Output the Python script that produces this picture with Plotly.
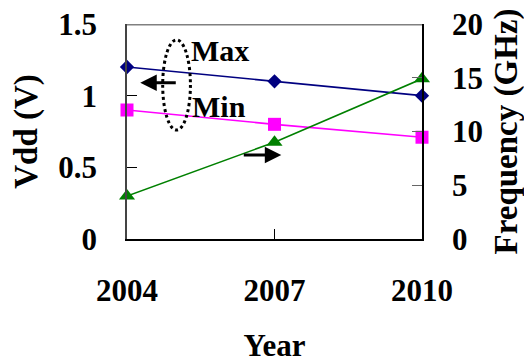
import plotly.graph_objects as go

years = [2004, 2007, 2010]
vdd_max = [1.2, 1.1, 1.0]
vdd_min = [0.9, 0.8, 0.71]
freq_ghz = [4.0, 9.0, 14.9]

x_ticks = [2004, 2007, 2010]
y_ticks = [0, 0.5, 1, 1.5]
y2_ticks = [0, 5, 10, 15, 20]

FONT = "Liberation Serif"
tick_font = dict(family=FONT, size=31, color="black")
xtitle_font = dict(family=FONT, size=31, color="black")
ytitle_font = dict(family=FONT, size=33, color="black")

fig = go.Figure()
fig.add_trace(go.Scatter(x=years, y=vdd_max, mode="lines+markers", name="Max",
                         line=dict(color="#000080", width=1.6),
                         marker=dict(symbol="diamond", size=11, color="#000080"),
                         cliponaxis=False))
fig.add_trace(go.Scatter(x=years, y=vdd_min, mode="lines+markers", name="Min",
                         line=dict(color="#FF00FF", width=1.6),
                         marker=dict(symbol="square", size=13, color="#FF00FF"),
                         cliponaxis=False))
fig.add_trace(go.Scatter(x=years, y=freq_ghz, mode="lines+markers", name="Frequency",
                         line=dict(color="#008000", width=1.6),
                         marker=dict(symbol="triangle-up", size=14, color="#008000"),
                         yaxis="y2", cliponaxis=False))

fig.update_layout(
    width=524, height=355,
    margin=dict(l=119, r=110, t=16, b=124, autoexpand=False),
    paper_bgcolor="white", plot_bgcolor="white",
    showlegend=False,
    xaxis=dict(range=[2004, 2010], tickvals=x_ticks,
               ticktext=[f"<b>{v}</b>" for v in x_ticks],
               ticks="inside", ticklen=10, tickcolor="black", tickwidth=1,
               showline=True, linecolor="black", linewidth=1.5,
               showgrid=False, zeroline=False, tickfont=tick_font,
               ticklabelstandoff=23, ticklabeloverflow="allow", automargin=False,
               title=dict(text="<b>Year</b>", font=xtitle_font, standoff=40)),
    yaxis=dict(range=[0, 1.5], tickvals=y_ticks,
               ticktext=[f"<b>{v:g}</b>" for v in y_ticks],
               ticks="inside", ticklen=10,
               tickcolor="black", showline=True, linecolor="#444444", linewidth=1.5,
               showgrid=False, zeroline=False, tickfont=tick_font,
               ticklabelstandoff=22, ticklabeloverflow="allow", automargin=False,
               title=dict(text="<b>Vdd (V)</b>", font=ytitle_font, standoff=14)),
    yaxis2=dict(range=[0, 20], tickvals=y2_ticks,
                ticktext=[f"<b>{v}</b>" for v in y2_ticks],
                ticks="inside", ticklen=10,
                tickcolor="#666666", overlaying="y", side="right",
                showline=True, linecolor="black", linewidth=1.5,
                showgrid=False, zeroline=False, tickfont=tick_font,
                ticklabelstandoff=22, ticklabeloverflow="allow", automargin=False,
                title=dict(text="<b>Frequency (GHz)</b>", font=ytitle_font, standoff=12)),
)

# gray top frame line (just inside the plot top)
fig.add_shape(type="line", xref="paper", yref="paper", x0=0, x1=1, y0=0.996, y1=0.996,
              layer="above", line=dict(color="#808080", width=1.5))

# dotted ellipse
fig.add_shape(type="circle", xref="paper", yref="paper",
              x0=0.121, x1=0.215, y0=0.507, y1=0.926,
              line=dict(color="black", width=3, dash="dot"))

# arrows
fig.add_annotation(x=0.045, y=0.727, xref="paper", yref="paper", text="",
                   showarrow=True, ax=37, ay=0, arrowhead=2, arrowsize=1.1,
                   arrowwidth=3, arrowcolor="black")
fig.add_annotation(x=0.523, y=0.391, xref="paper", yref="paper", text="",
                   showarrow=True, ax=-39, ay=0, arrowhead=2, arrowsize=1.1,
                   arrowwidth=3, arrowcolor="black")

# labels
fig.add_annotation(x=0.211, y=0.879, xref="paper", yref="paper", text="<b>Max</b>",
                   showarrow=False, xanchor="left", yanchor="middle",
                   font=dict(family=FONT, size=30, color="black"))
fig.add_annotation(x=0.214, y=0.614, xref="paper", yref="paper", text="<b>Min</b>",
                   showarrow=False, xanchor="left", yanchor="middle",
                   font=dict(family=FONT, size=30, color="black"))

fig.write_html("out.html")
